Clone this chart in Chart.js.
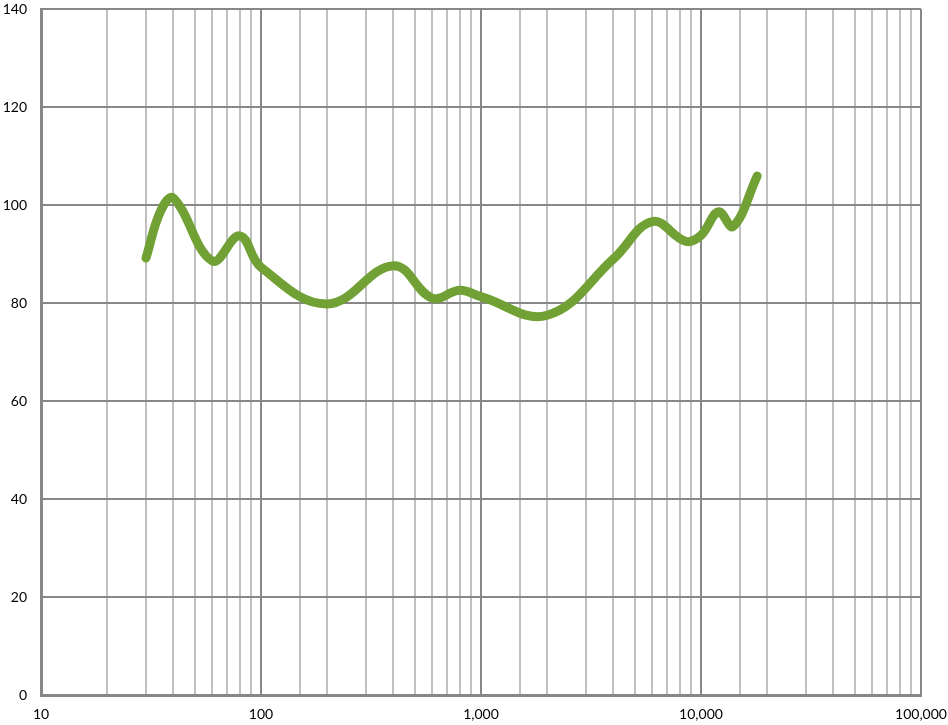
<!DOCTYPE html>
<html>
<head>
<meta charset="utf-8">
<script src="https://cdn.jsdelivr.net/npm/chart.js@4/dist/chart.umd.min.js"></script>
<style>
html,body{margin:0;padding:0;background:#fff;}
#wrap{width:948px;height:725px;}
</style>
</head>
<body>
<div id="wrap"><canvas id="c" width="948" height="725"></canvas></div>
<script>
const frequencies = [30, 35, 40, 60, 80, 100, 200, 400, 600, 800, 1000, 2000, 4000, 6000, 8500, 10000, 12000, 14000, 18000];
const levels      = [89.2, 98.8, 101.4, 88.6, 93.7, 87.3, 79.8, 87.6, 81, 82.6, 81.3, 77.5, 89, 96.6, 92.6, 93.8, 98.6, 95.6, 105.9];
const yTicks = [0, 20, 40, 60, 80, 100, 120, 140];
const xDecades = [10, 100, 1000, 10000, 100000];

const points = frequencies.map((f, i) => ({x: f, y: levels[i]}));
const isDecade = v => xDecades.some(d => Math.abs(v - d) < 1e-6);

new Chart(document.getElementById('c'), {
  type: 'line',
  data: {
    datasets: [{
      data: points,
      borderColor: '#71A034',
      borderWidth: 9,
      pointRadius: 0,
      tension: 0.4,
      borderCapStyle: 'round',
      borderJoinStyle: 'round',
      fill: false
    }]
  },
  options: {
    responsive: false,
    animation: false,
    devicePixelRatio: 1,
    layout: {padding: 0},
    plugins: {legend: {display: false}, tooltip: {enabled: false}},
    scales: {
      x: {
        type: 'logarithmic',
        min: 10,
        max: 100000,
        border: {color: '#878787', width: 3},
        grid: {
          drawTicks: false,
          lineWidth: 2,
          color: ctx => (ctx.tick && isDecade(ctx.tick.value)) ? '#878787' : '#BFBFBF'
        },
        ticks: {
          autoSkip: false,
          maxRotation: 0,
          padding: 11,
          color: '#000',
          font: {family: 'Lato, "Open Sans", sans-serif', size: 14},
          callback: v => isDecade(v) ? Number(v).toLocaleString('en-US') : ''
        },
        afterFit: s => { s.height = 30; s.paddingLeft = 0; s.paddingRight = 27; }
      },
      y: {
        min: 0,
        max: 140,
        border: {color: '#878787', width: 3},
        afterBuildTicks: s => { s.ticks = yTicks.map(v => ({value: v})); },
        grid: {drawTicks: false, lineWidth: 2, color: '#878787'},
        ticks: {
          padding: 14,
          color: '#000',
          font: {family: 'Lato, "Open Sans", sans-serif', size: 14}
        },
        afterFit: s => { s.width = 41; s.paddingTop = 9; s.paddingBottom = 0; }
      }
    }
  }
});
</script>
</body>
</html>
